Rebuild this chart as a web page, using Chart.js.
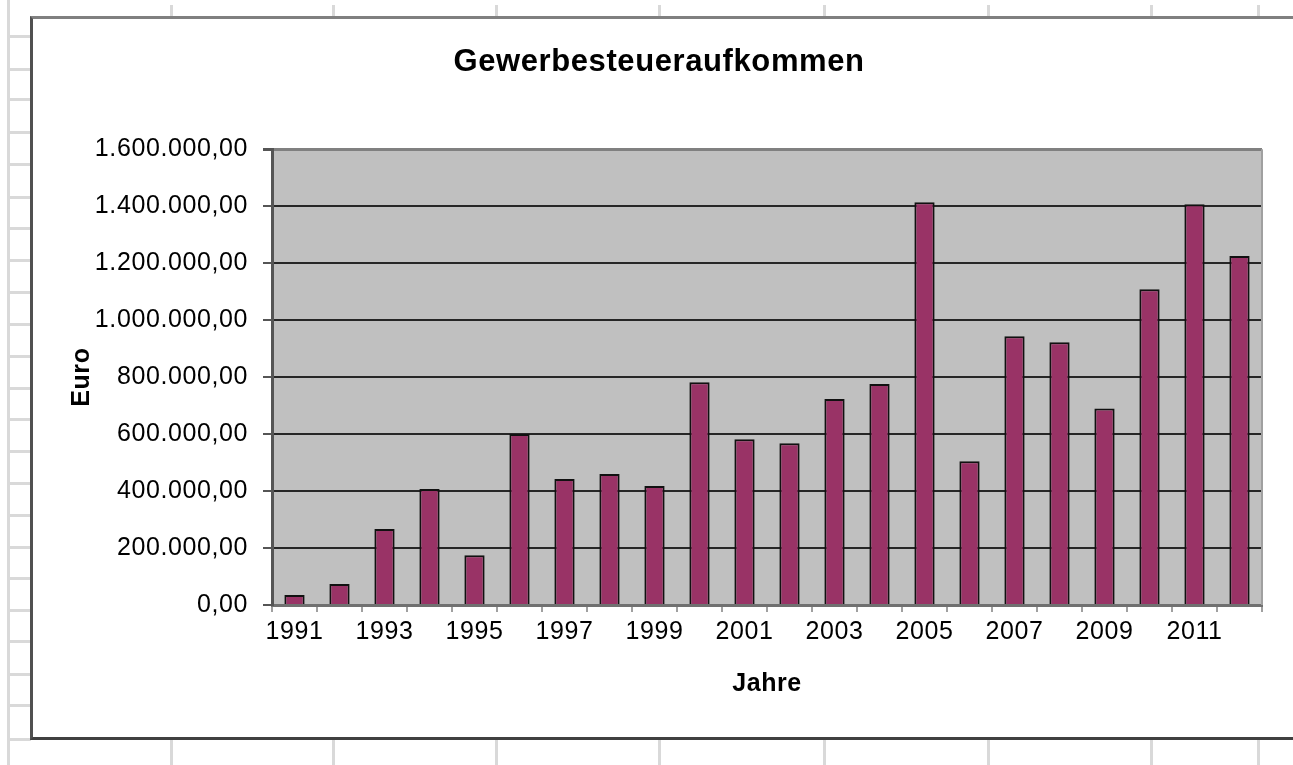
<!DOCTYPE html>
<html>
<head>
<meta charset="utf-8">
<title>Gewerbesteueraufkommen</title>
<script src="https://cdn.jsdelivr.net/npm/chart.js@4"></script>
<style>
  body { margin: 0; width: 1293px; height: 765px; overflow: hidden; background: #fff; position: relative; }
  .sheet { position: absolute; background: #d9d9d9; }
  #frame {
    position: absolute; left: 30px; top: 16px; width: 1300px; height: 718px; background: #fff;
    border-top: 3px solid #808080; border-left: 3px solid #505050; border-bottom: 3px solid #404040;
  }
  #chart { position: absolute; left: 33px; top: 19px; }
</style>
</head>
<body>
<div id="frame"></div>
<canvas id="chart" width="1252" height="718"></canvas>
<script>
// Daten
const years = ['1991', '1992', '1993', '1994', '1995', '1996', '1997', '1998', '1999', '2000', '2001',
  '2002', '2003', '2004', '2005', '2006', '2007', '2008', '2009', '2010', '2011', '2012'];
const steuer = [35000, 74000, 267000, 407000, 175000, 600000, 442000, 460000, 418000, 782000, 582000,
  568000, 723000, 776000, 1414000, 505000, 943000, 922000, 690000, 1108000, 1407000, 1225000];
const yMax = 1600000;
const yStep = 200000;

// Tabellen-Hintergrund (Excel-Raster um das Diagramm)
const rowLines = [36, 69, 99, 132, 164, 197, 228, 260, 292, 324, 356, 388, 419, 451, 483, 515, 547, 578, 610, 641, 674, 705, 739];
const colLines = [171, 333, 496, 659, 824, 988, 1151, 1258];

function addSheetLine(left, top, width, height) {
  const d = document.createElement('div');
  d.className = 'sheet';
  Object.assign(d.style, { left: left + 'px', top: top + 'px', width: width + 'px', height: height + 'px' });
  document.body.insertBefore(d, document.body.firstChild);
}
addSheetLine(7, 0, 3, 765);
rowLines.forEach(y => addSheetLine(7, y - 1, 24, 3));
colLines.forEach(x => {
  addSheetLine(x - 1, 5, 3, 12);
  addSheetLine(x - 1, 740, 3, 25);
});

const FONT = '"Liberation Sans", Arial, Helvetica, sans-serif';
Chart.defaults.font.family = FONT;
Chart.defaults.color = '#000';

function formatEuro(v) {
  const s = Math.round(v).toString().replace(/\B(?=(\d{3})+(?!\d))/g, '.');
  return s + ',00';
}

// Excel zeichnet die Schrift etwas gesperrt
function spacing(chart) {
  chart.ctx.letterSpacing = '0.6px';
}

// grauer Plotbereich mit Rahmen, Titel über volle Breite zentriert
const plotArea = {
  id: 'plotArea',
  beforeLayout: spacing,
  afterLayout(chart) {
    if (chart.titleBlock) {
      chart.titleBlock.left = 0;
      chart.titleBlock.right = chart.width;
      chart.titleBlock.width = chart.width;
    }
  },
  beforeDraw(chart) {
    spacing(chart);
    const { ctx, chartArea: a } = chart;
    ctx.save();
    ctx.fillStyle = '#c0c0c0';
    ctx.fillRect(a.left, a.top, a.right - a.left, a.bottom - a.top);
    ctx.restore();
  },
  afterDraw(chart) {
    const { ctx, chartArea: a } = chart;
    ctx.save();
    ctx.strokeStyle = '#a0a0a0';
    ctx.lineWidth = 2;
    ctx.beginPath();
    ctx.moveTo(a.right, a.top);
    ctx.lineTo(a.right, a.bottom);
    ctx.stroke();
    ctx.restore();
  },
};

new Chart(document.getElementById('chart'), {
  type: 'bar',
  data: {
    labels: years,
    datasets: [{
      label: 'Gewerbesteuer',
      data: steuer,
      backgroundColor: '#993366',
      borderColor: '#111',
      borderWidth: 2,
      borderSkipped: 'bottom',
      categoryPercentage: 1,
      barPercentage: 0.45,
    }],
  },
  options: {
    responsive: false,
    animation: false,
    layout: { padding: { left: 0, right: 23, top: 0, bottom: 0 } },
    plugins: {
      legend: { display: false },
      tooltip: { enabled: false },
      title: {
        display: true,
        text: 'Gewerbesteueraufkommen',
        color: '#000',
        font: { size: 31, weight: 'bold' },
        padding: { top: 25, bottom: 68 },
      },
    },
    scales: {
      x: {
        afterFit: (scale) => { scale.height = 132; },
        grid: {
          offset: true,
          drawOnChartArea: false,
          tickLength: 7,
          tickColor: '#a0a0a0',
          lineWidth: 2,
        },
        border: { color: '#707070', width: 3 },
        ticks: {
          autoSkip: false,
          maxRotation: 0,
          padding: 5,
          font: { size: 25 },
          callback: (v, i) => (i % 2 === 0 ? years[i] : ''),
        },
        title: {
          display: true,
          text: 'Jahre',
          font: { size: 25, weight: 'bold' },
          padding: { top: 0, bottom: 38 },
        },
      },
      y: {
        min: 0,
        max: yMax,
        afterFit: (scale) => { scale.width = 239; },
        grid: {
          color: (ctx) => (ctx.tick && ctx.tick.value === yMax ? '#808080' : '#262626'),
          lineWidth: (ctx) => (ctx.tick && ctx.tick.value === yMax ? 3 : 2),
          tickLength: 9,
          tickColor: '#555',
        },
        border: { color: '#555', width: 3 },
        ticks: {
          stepSize: yStep,
          padding: 15,
          font: { size: 25 },
          callback: (v) => formatEuro(v),
        },
        title: {
          display: true,
          text: 'Euro',
          font: { size: 25, weight: 'bold' },
          padding: { top: 34, bottom: 0 },
        },
      },
    },
  },
  plugins: [plotArea],
});
</script>
</body>
</html>
